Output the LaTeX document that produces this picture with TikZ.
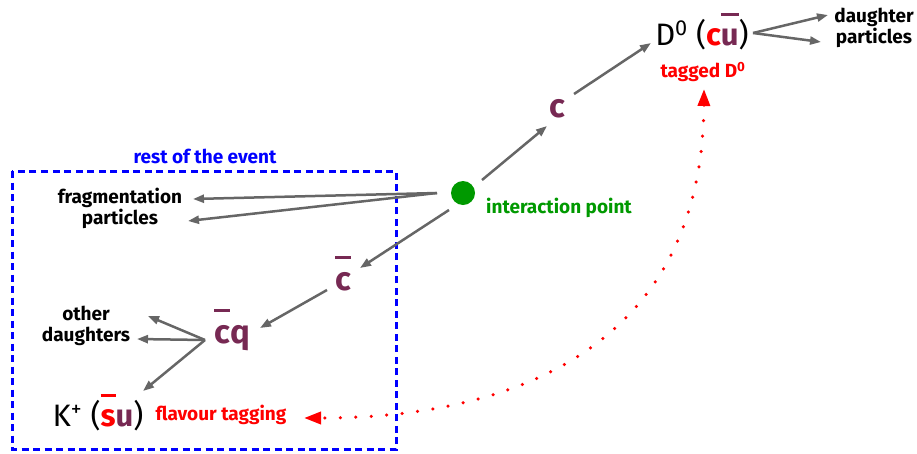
\documentclass[tikz,border=0pt]{standalone}
\usepackage{fontspec}
\setmainfont{Fira Sans}
\usetikzlibrary{arrows.meta,calc}
\definecolor{aub}{HTML}{772953}
\definecolor{ipgreen}{HTML}{009900}
\definecolor{arrgray}{HTML}{666666}
\newcommand\ovbar[1]{\setbox0\hbox{#1}\rlap{\rule[0.93em]{\wd0}{0.09em}}\box0}
\begin{document}
\begin{tikzpicture}[x=1pt,y=-1pt,
  lbl/.style={font=\fontsize{19}{21}\selectfont\bfseries, inner sep=0pt, align=center},
  big/.style={font=\fontsize{33}{36}\selectfont\bfseries, text=aub, inner sep=0pt},
  part/.style={font=\fontsize{31}{34}\selectfont, inner sep=0pt},
  garrow/.style={draw=arrgray, line width=2.5pt, -{Triangle[length=11pt,width=8pt]}},
  tagarrow/.style={draw=red, line width=3.5pt, line cap=round, dash pattern=on 0pt off 15.5pt,
    {Triangle[length=17pt,width=12pt]}-{Triangle[length=17pt,width=12pt]}},
]
\useasboundingbox (0,0) rectangle (917,453);
\draw[blue, line width=3pt, dash pattern=on 7pt off 4.5pt] (12,171) rectangle (396,449);
\node[lbl, text=blue] (rest) at (205,156) {rest of the event};
\node[circle, fill=ipgreen, minimum size=24pt, inner sep=0pt] (ip) at (463,193) {};
\node[lbl, text=ipgreen] (iplbl) at (559,208) {interaction point};
\node[big] (c) at (557,109) {c};
\node[part, anchor=base] (D0) at (702,45) {D\textsuperscript{0} (\textcolor{red}{\bfseries c}\textcolor{aub}{\bfseries\ovbar{u}})};
\node[lbl, text=red] (tagD) at (703,72) {tagged D\textsuperscript{0}};
\node[lbl] (daught) at (874,28) {daughter\\particles};
\node[lbl] (frag) at (120,208) {fragmentation\\particles};
\node[big, anchor=base] (cbar) at (343,290) {\ovbar{c}};
\node[big, anchor=base] (cq) at (232,343) {\ovbar{c}q};
\node[lbl] (other) at (86,326) {other\\daughters};
\node[part, anchor=base] (K) at (98,426) {K\textsuperscript{+} (\textcolor{red}{\bfseries\ovbar{s}}\textcolor{aub}{\bfseries u})};
\node[lbl, text=red] (flav) at (221,415) {flavour tagging};

\draw[garrow] ($(ip)+(19,-13)$) -- ($(c)+(-10,17)$);
\draw[garrow] ($(c)+(17,-15)$) -- ($(D0.base)+(-51,-2)$);
\draw[garrow] ($(D0.base)+(51,-12)$) -- ($(daught)+(-46,-13)$);
\draw[garrow] ($(D0.base)+(51,-12)$) -- ($(daught)+(-53,14)$);
\draw[garrow] ($(ip)+(-26,0)$) -- ($(frag)+(73,-9)$);
\draw[garrow] ($(ip)+(-26,0)$) -- ($(frag)+(68,13)$);
\draw[garrow] ($(ip)+(-14,17)$) -- ($(cbar.base)+(17,-22)$);
\draw[garrow] ($(cbar.base)+(-16,0)$) -- ($(cq.base)+(28,-15)$);
\draw[garrow] ($(cq.base)+(-27,-3)$) -- ($(other)+(62,-10)$);
\draw[garrow] ($(cq.base)+(-27,-3)$) -- ($(other)+(51,13)$);
\draw[garrow] ($(cq.base)+(-27,-3)$) -- ($(K.base)+(45,-35)$);

\draw[tagarrow] ($(tagD)+(1,17)$) .. controls (702,350) and (510,418) .. ($(flav)+(83,3)$);
\end{tikzpicture}
\end{document}
